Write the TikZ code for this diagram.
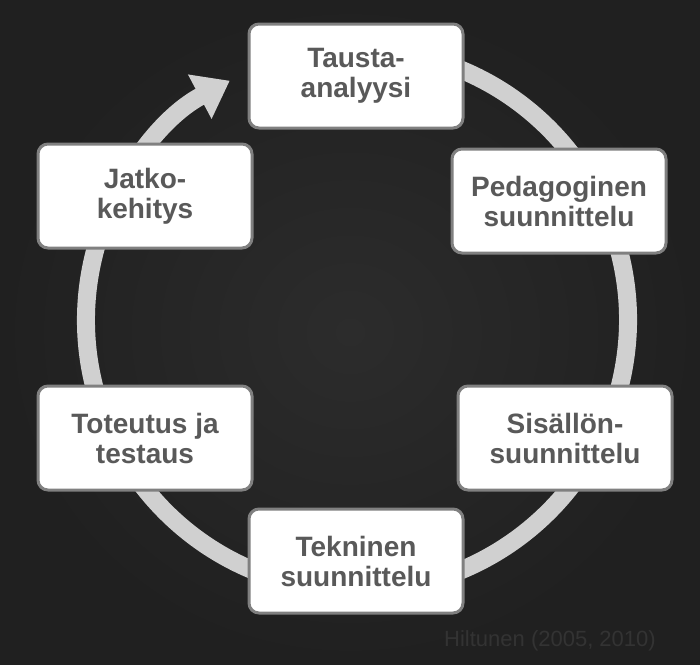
\documentclass[tikz,border=0pt]{standalone}
\usepackage{fontspec}
\setmainfont{Liberation Sans}
\usetikzlibrary{arrows.meta,positioning,backgrounds}
\definecolor{board}{RGB}{32,32,32}
\definecolor{boardlight}{RGB}{44,44,44}
\definecolor{ringgray}{RGB}{208,208,208}
\definecolor{boxline}{RGB}{128,128,128}
\definecolor{boxtext}{RGB}{89,89,89}
\tikzset{
  phase/.style={rectangle, rounded corners=10pt, draw=boxline, line width=3pt, fill=white,
    minimum width=214pt, minimum height=104pt, align=center, text=boxtext,
    font=\fontsize{28}{30}\selectfont\bfseries},
  ring/.style={draw=ringgray, line width=18pt, -{Triangle[width=48pt,length=34pt]}}
}
\begin{document}
\begin{tikzpicture}[x=1pt,y=-1pt]
%background
\shade[inner color=boardlight, outer color=board] (0,0) rectangle (700,664);
\useasboundingbox (0,0) rectangle (700,664);
%ring
\coordinate (c) at (357,320);
\draw[ring] ([shift={(-80:271)}]c) arc[start angle=-80, end angle=242, radius=271];
%phases
\node[phase] (tausta) at (356,76) {Tausta-\\analyysi};
\node[phase] (pedag) at (559,201) {Pedagoginen\\suunnittelu};
\node[phase] (sisalto) at (565,438) {Sisällön-\\suunnittelu};
\node[phase] (tekn) at (356,561) {Tekninen\\suunnittelu};
\node[phase] (toteutus) at (145,438) {Toteutus ja\\testaus};
\node[phase] (jatko) at (145,196) {Jatko-\\kehitys};
%source
\node[text=black!80, font=\fontsize{22}{26}\selectfont] (lahde) at (550,641) {Hiltunen (2005, 2010)};
\end{tikzpicture}
\end{document}
